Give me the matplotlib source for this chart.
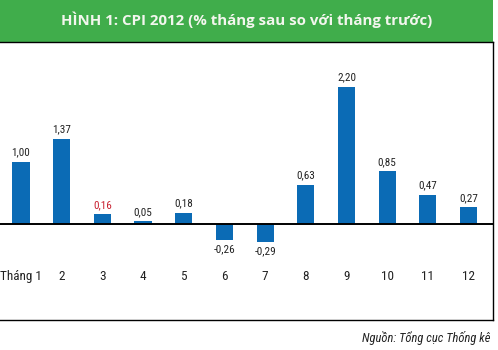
import matplotlib.pyplot as plt

months = [1, 2, 3, 4, 5, 6, 7, 8, 9, 10, 11, 12]
month_labels = ["Tháng 1", "2", "3", "4", "5", "6", "7", "8", "9", "10", "11", "12"]
cpi = [1.00, 1.37, 0.16, 0.05, 0.18, -0.26, -0.29, 0.63, 2.20, 0.85, 0.47, 0.27]
value_labels = ["1,00", "1,37", "0,16", "0,05", "0,18", "-0,26", "-0,29",
                "0,63", "2,20", "0,85", "0,47", "0,27"]
red_month = 3

TITLE = "HÌNH 1: CPI 2012 (% tháng sau so với tháng trước)"
SOURCE = "Nguồn: Tổng cục Thống kê"

BAR_COLOR = "#0b6bb5"
GREEN = "#40ad4b"
NARROW = ["Liberation Sans Narrow", "Roboto Condensed", "DejaVu Sans"]

W, H = 498, 350
fig = plt.figure(figsize=(W / 100, H / 100), dpi=100)

# green title band
band = fig.add_axes([0, 1 - 42 / H, 493 / W, 42 / H])
band.set_facecolor(GREEN)
band.set_xticks([])
band.set_yticks([])
for s in band.spines.values():
    s.set_visible(False)
band.text(0.5, 0.52, TITLE, ha="center", va="center", color="#f3f6ee",
          fontsize=10.8, fontweight="bold", family=["Open Sans", "DejaVu Sans"])

# main chart box
ax = fig.add_axes([0, 1 - 320 / H, 493 / W, (320 - 42) / H])
ax.bar(months, cpi, width=0.42, color=BAR_COLOR, zorder=2)
ax.axhline(0, color="black", lw=1.4, zorder=3)
ax.set_xlim(0.485, 12.6)
ax.set_ylim(-1.54, 2.92)
ax.set_xticks([])
ax.set_yticks([])
ax.spines["left"].set_visible(False)
for side in ["top", "right", "bottom"]:
    ax.spines[side].set_linewidth(1.0)

for m, v, lab in zip(months, cpi, value_labels):
    col = "#c8202f" if m == red_month else "#222222"
    if v >= 0:
        ax.annotate(lab, (m, v), xytext=(0, 3), textcoords="offset points",
                    ha="center", va="bottom", fontsize=8, color=col, family=NARROW)
    else:
        ax.annotate(lab, (m, v), xytext=(0, -3), textcoords="offset points",
                    ha="center", va="top", fontsize=8, color=col, family=NARROW)

for m, lab in zip(months, month_labels):
    ax.text(m, -0.835, lab, ha="center", va="center", fontsize=9.5,
            color="#222222", family=NARROW)

fig.text(490 / W, 1 - 338 / H, SOURCE, ha="right", va="center", fontsize=9,
         style="italic", color="#222222", family=NARROW)

fig.savefig("out.png", dpi=100, facecolor="white")
